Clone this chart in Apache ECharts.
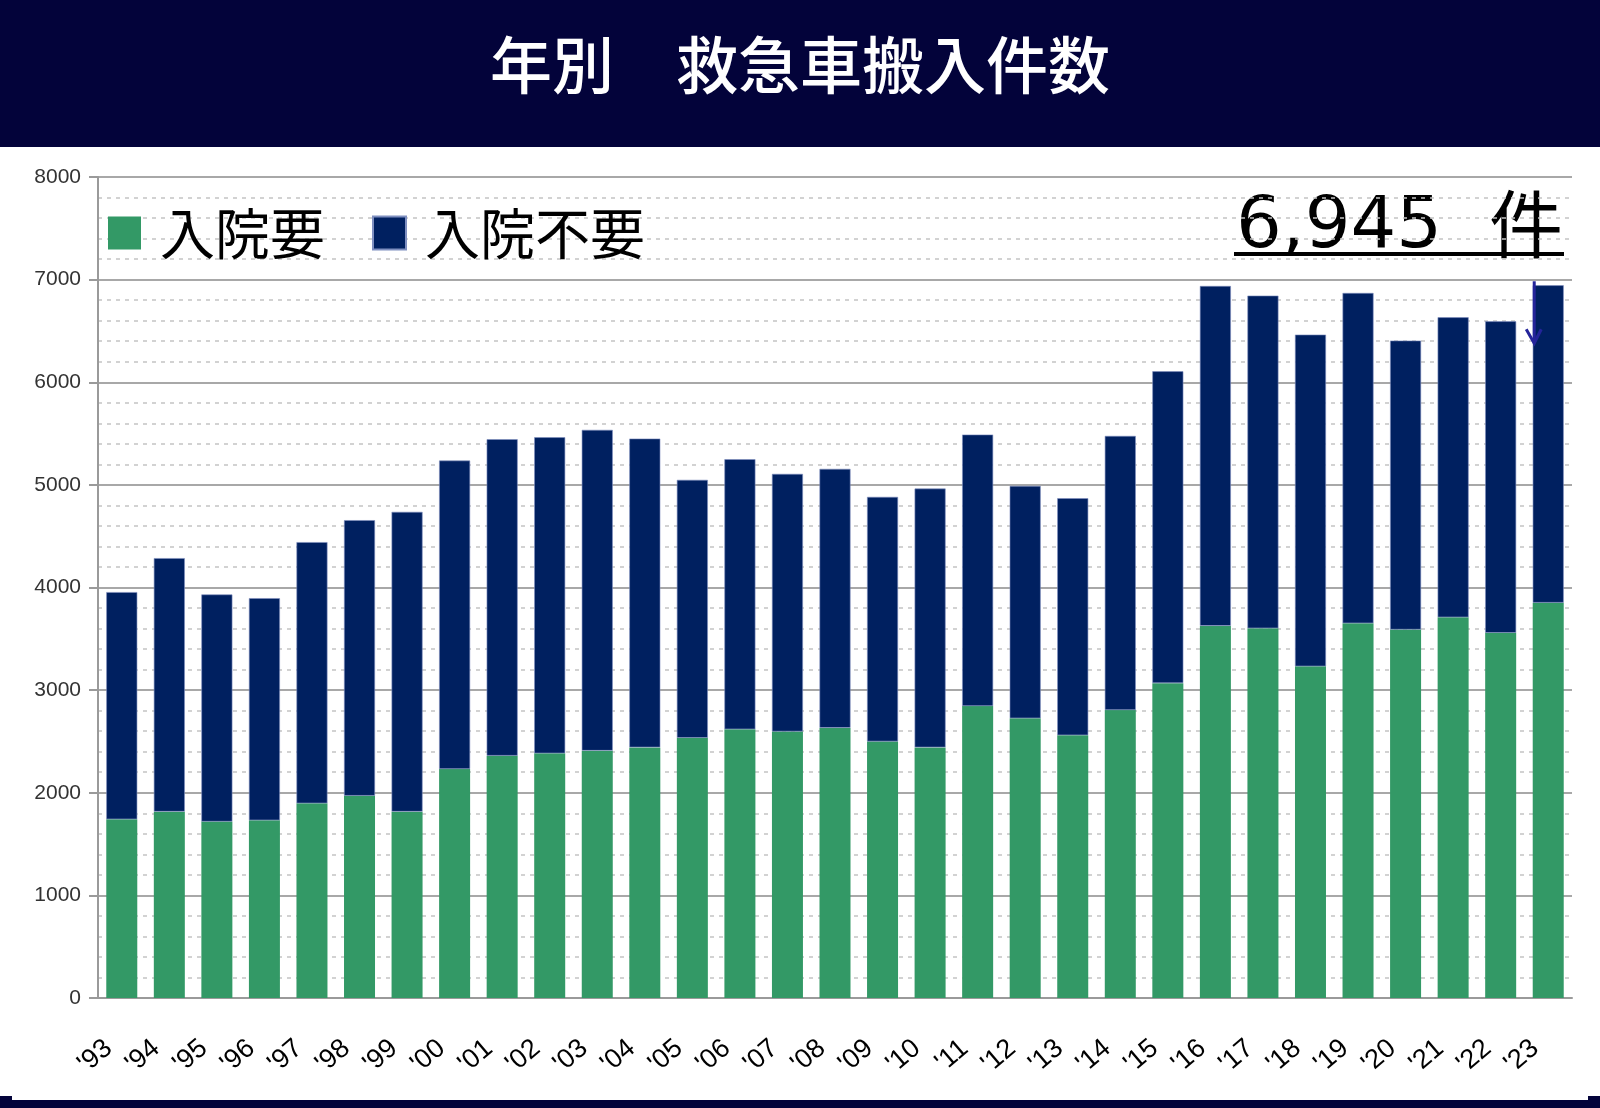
<!DOCTYPE html>
<html>
<head>
<meta charset="utf-8">
<script src="https://cdn.jsdelivr.net/npm/echarts@6/dist/echarts.min.js"></script>
<style>
  html, body { margin: 0; padding: 0; background: #fff; }
  #main { width: 1600px; height: 1108px; }
</style>
</head>
<body>
<div id="main"></div>
<script>
// 年別 救急車搬入件数（'93〜'23）
var years = ["'93", "'94", "'95", "'96", "'97", "'98", "'99", "'00", "'01", "'02",
    "'03", "'04", "'05", "'06", "'07", "'08", "'09", "'10", "'11", "'12",
    "'13", "'14", "'15", "'16", "'17", "'18", "'19", "'20", "'21", "'22", "'23"];

// 入院要（緑）
var nyuinYo = [1742, 1816, 1719, 1732, 1897, 1971, 1816, 2232, 2361, 2384,
    2410, 2442, 2535, 2619, 2597, 2632, 2500, 2442, 2845, 2726,
    2561, 2806, 3068, 3626, 3603, 3232, 3652, 3590, 3710, 3558, 3852];

// 入院不要（紺）
var nyuinFuyo = [2213, 2470, 2213, 2164, 2545, 2685, 2921, 3005, 3084, 3080,
    3126, 3009, 2514, 2631, 2510, 2524, 2383, 2522, 2645, 2264,
    2309, 2671, 3039, 3312, 3241, 3232, 3218, 2816, 2923, 3036, 3093];

var yTicks = [0, 1000, 2000, 3000, 4000, 5000, 6000, 7000, 8000];

var navy = '#03033a';
var jp = '"Noto Sans CJK JP", "Noto Sans", sans-serif';
var latin = '"Liberation Sans", Arial, sans-serif';

var myChart = echarts.init(document.getElementById('main'));

var last = years.length - 1;
var lastTotal = nyuinYo[last] + nyuinFuyo[last];

var option = {
    backgroundColor: '#fff',
    animation: false,
    legend: {
        data: ['入院要', '入院不要'],
        left: 103,
        top: 197,
        icon: 'rect',
        itemWidth: 33,
        itemHeight: 33,
        itemGap: 47,
        textStyle: {
            fontSize: 55,
            color: '#000',
            fontFamily: jp,
            padding: [0, 0, 0, 14],
            lineHeight: 62
        }
    },
    grid: {
        left: 98,
        right: 28,
        top: 177,
        bottom: 110
    },
    xAxis: {
        type: 'category',
        data: years,
        axisLine: { lineStyle: { color: '#9a9a9a', width: 2 } },
        axisTick: { length: 13, lineStyle: { color: '#9a9a9a', width: 2 } },
        axisLabel: {
            interval: 0,
            rotate: 40,
            fontSize: 27,
            color: '#000',
            fontFamily: latin,
            margin: 36,
            padding: [0, 17, 0, 0]
        }
    },
    yAxis: {
        type: 'value',
        min: yTicks[0],
        max: yTicks[yTicks.length - 1],
        interval: 1000,
        axisLine: { show: true, lineStyle: { color: '#9a9a9a', width: 2 } },
        axisTick: { show: true, length: 9, lineStyle: { color: '#9a9a9a', width: 2 } },
        axisLabel: {
            fontSize: 21,
            color: '#333',
            margin: 17,
            fontFamily: latin,
            formatter: function (v) { return String(v); }
        },
        splitLine: { lineStyle: { color: '#a8a8a8', width: 2 } },
        minorTick: { show: false, splitNumber: 5 },
        minorSplitLine: {
            show: true,
            lineStyle: { color: '#c4c4c4', width: 1.5, type: [4, 5] }
        }
    },
    series: [
        {
            name: '入院要',
            type: 'bar',
            stack: 'total',
            barWidth: 31,
            data: nyuinYo,
            itemStyle: { color: '#339966' }
        },
        {
            name: '入院不要',
            type: 'bar',
            stack: 'total',
            barWidth: 31,
            data: nyuinFuyo,
            itemStyle: { color: '#002060', borderColor: '#7f8fc0', borderWidth: 0.6 }
        }
    ],
    graphic: [
        // 上の帯
        { type: 'rect', left: 0, top: 0, shape: { width: 1600, height: 147 }, style: { fill: navy } },
        {
            type: 'text', left: 'center', top: 34,
            style: { text: '年別　救急車搬入件数', fill: '#fff', font: '500 62px ' + jp }
        },
        // 下の線
        { type: 'rect', left: 0, top: 1100, shape: { width: 1600, height: 8 }, style: { fill: navy } },
        { type: 'rect', left: 0, top: 1096, shape: { width: 12, height: 6 }, style: { fill: navy } },
        { type: 'rect', left: 1588, top: 1096, shape: { width: 12, height: 6 }, style: { fill: navy } }
    ]
};

myChart.setOption(option);

// 右上の件数と矢印（最後の棒の位置から）
var top23 = myChart.convertToPixel({ xAxisIndex: 0, yAxisIndex: 0 }, [years[last], lastTotal]);
var ax = top23[0] - 14;
var ay = top23[1];

myChart.setOption({
    graphic: option.graphic.concat([
        {
            type: 'text', left: 1236, top: 192,
            style: { text: lastTotal.toLocaleString('en-US'), fill: '#000', font: '72px "DejaVu Sans", sans-serif' }
        },
        {
            type: 'text', right: 37, top: 187,
            style: { text: '件', fill: '#000', font: '74px ' + jp }
        },
        { type: 'rect', left: 1234, top: 252, shape: { width: 330, height: 4 }, style: { fill: '#000' } },
        {
            type: 'polyline', z: 100,
            shape: { points: [[ax, ay - 4], [ax, ay + 58]] },
            style: { stroke: '#24249a', lineWidth: 3, fill: null }
        },
        {
            type: 'polyline', z: 100,
            shape: { points: [[ax - 8, ay + 44], [ax, ay + 58], [ax + 7, ay + 44]] },
            style: { stroke: '#24249a', lineWidth: 3, fill: null }
        }
    ])
});
</script>
</body>
</html>
